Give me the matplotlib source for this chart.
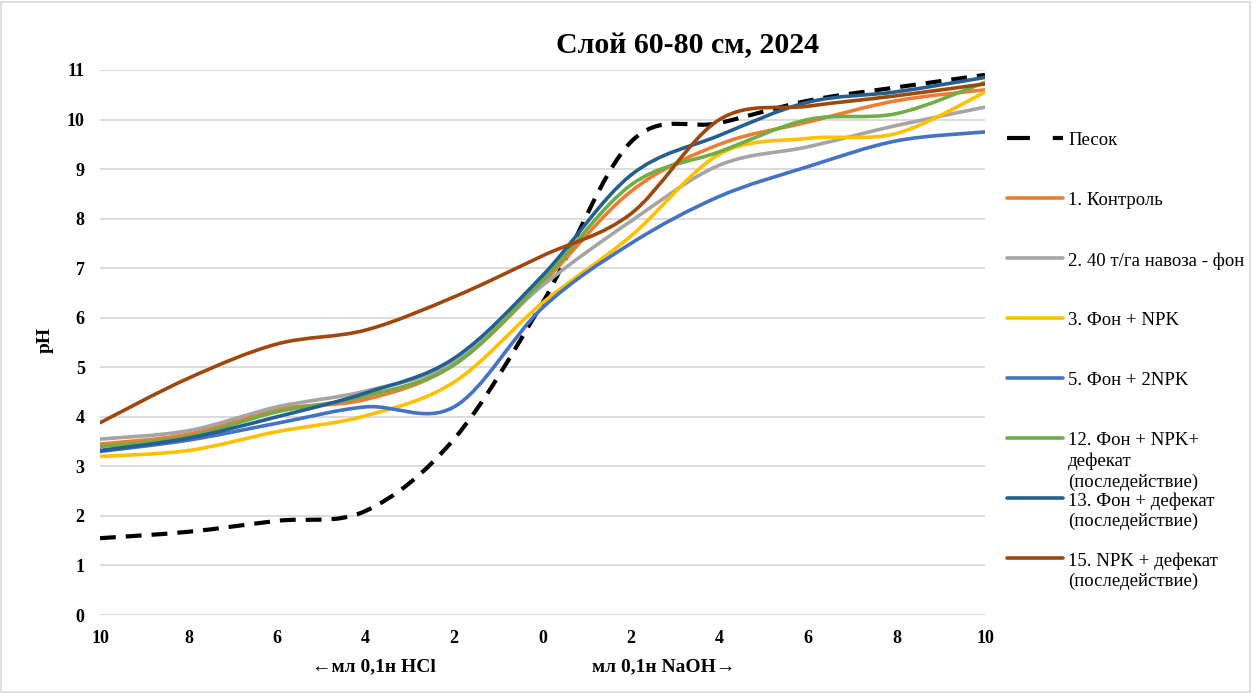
import matplotlib.pyplot as plt
from matplotlib.path import Path
from matplotlib.patches import PathPatch, Rectangle
from matplotlib.lines import Line2D

# categories: ml 0.1N HCl (left) ... 0 ... ml 0.1N NaOH (right)
cats = ['10', '8', '6', '4', '2', '0', '2', '4', '6', '8', '10']

pesok = [1.55, 1.68, 1.9, 2.1, 3.55, 6.3, 9.55, 9.93, 10.38, 10.65, 10.9]
kontrol = [3.45, 3.65, 4.15, 4.35, 5.05, 6.7, 8.55, 9.5, 9.95, 10.38, 10.6]
navoz = [3.55, 3.72, 4.2, 4.52, 5.1, 6.65, 7.95, 9.08, 9.45, 9.88, 10.25]
fon_npk = [3.2, 3.32, 3.7, 4.02, 4.7, 6.3, 7.65, 9.3, 9.62, 9.72, 10.55]
fon_2npk = [3.3, 3.53, 3.87, 4.2, 4.2, 6.2, 7.5, 8.45, 9.05, 9.57, 9.75]
fon_npk_def = [3.4, 3.6, 4.1, 4.42, 5.05, 6.75, 8.68, 9.35, 10.0, 10.12, 10.75]
fon_def = [3.32, 3.57, 4.0, 4.48, 5.18, 6.85, 8.88, 9.68, 10.35, 10.56, 10.85]
npk_def = [3.88, 4.78, 5.47, 5.75, 6.42, 7.25, 8.1, 10.0, 10.27, 10.48, 10.72]

series = [
    ('Песок', pesok, 'black', True),
    ('1. Контроль', kontrol, '#ED7D31', False),
    ('2. 40 т/га навоза - фон', navoz, '#A5A5A5', False),
    ('3. Фон + NPK', fon_npk, '#FFC000', False),
    ('5. Фон + 2NPK', fon_2npk, '#4472C4', False),
    ('12. Фон + NPK+\nдефекат\n(последействие)', fon_npk_def, '#70AD47', False),
    ('13. Фон + дефекат\n(последействие)', fon_def, '#255E91', False),
    ('15. NPK + дефекат\n(последействие)', npk_def, '#9E480E', False),
]


def smooth_path(xs, ys):
    # bezier path through the points, like Excel's "smoothed line"
    n = len(xs)
    verts = [(xs[0], ys[0])]
    codes = [Path.MOVETO]
    for i in range(n - 1):
        ip = max(i - 1, 0)
        inn = min(i + 2, n - 1)
        c1 = (xs[i] + (xs[i + 1] - xs[ip]) / 6, ys[i] + (ys[i + 1] - ys[ip]) / 6)
        c2 = (xs[i + 1] - (xs[inn] - xs[i]) / 6, ys[i + 1] - (ys[inn] - ys[i]) / 6)
        verts += [c1, c2, (xs[i + 1], ys[i + 1])]
        codes += [Path.CURVE4] * 3
    return Path(verts, codes)


W, H = 1259, 693
plt.rcParams['font.family'] = ['Liberation Serif', 'DejaVu Serif']
fig = plt.figure(figsize=(W / 100, H / 100), dpi=100)
ax = fig.add_axes([100 / W, 1 - 615 / H, 885 / W, 545 / H])

xs = list(range(len(cats)))
for label, vals, color, dashed in series:
    p = PathPatch(smooth_path(xs, vals), fill=False, edgecolor=color,
                  lw=3.0 if dashed else 2.6, capstyle='round', joinstyle='round',
                  linestyle=(0, (3.8, 2.4)) if dashed else '-', zorder=3)
    if dashed:
        p.set_capstyle('butt')
    ax.add_patch(p)

ax.set_xlim(0, len(cats) - 1)
ax.set_ylim(0, 11)
ax.set_yticks(range(0, 12))
ax.set_xticks(xs)
ax.set_xticklabels(cats)
ax.grid(axis='y', color='#D9D9D9', lw=1.3, zorder=0)
ax.set_axisbelow(True)
for s in ax.spines.values():
    s.set_visible(False)
ax.tick_params(length=0, labelsize=13, pad=11)
ax.tick_params(axis='y', pad=11)
for t in ax.get_xticklabels() + ax.get_yticklabels():
    t.set_fontweight('bold')

fig.text(45 / W, 1 - 340 / H, 'pH', rotation=90, ha='center', va='center',
         fontsize=14, fontweight='bold')
fig.text(374 / W, 1 - 667 / H, '←мл 0,1н HCl', ha='center', va='center',
         fontsize=14, fontweight='bold')
fig.text(664 / W, 1 - 667 / H, 'мл 0,1н NaOH→', ha='center', va='center',
         fontsize=14, fontweight='bold')
fig.text(687 / W, 1 - 46 / H, 'Слой 60-80 см, 2024', ha='center', va='center',
         fontsize=21.5, fontweight='bold')

# legend, drawn by hand to keep Excel's spacing
for k, (label, vals, color, dashed) in enumerate(series):
    y = 1 - (138 + 60 * k) / H
    fig.add_artist(Line2D([1007 / W, 1063 / W], [y, y], color=color,
                          lw=3.0 if dashed else 2.6,
                          linestyle=(0, (5.5, 5.5)) if dashed else '-',
                          solid_capstyle='round'))
    fig.text(1068 / W, y + 6 / H, label, ha='left', va='top', fontsize=13.5,
             linespacing=1.25)

fig.add_artist(Rectangle((1 / W, 1 / H), 1249 / W, 1 - 3 / H, transform=fig.transFigure,
                         fill=False, edgecolor='#D9D9D9', lw=1.2))

fig.savefig('out.png', dpi=100)
